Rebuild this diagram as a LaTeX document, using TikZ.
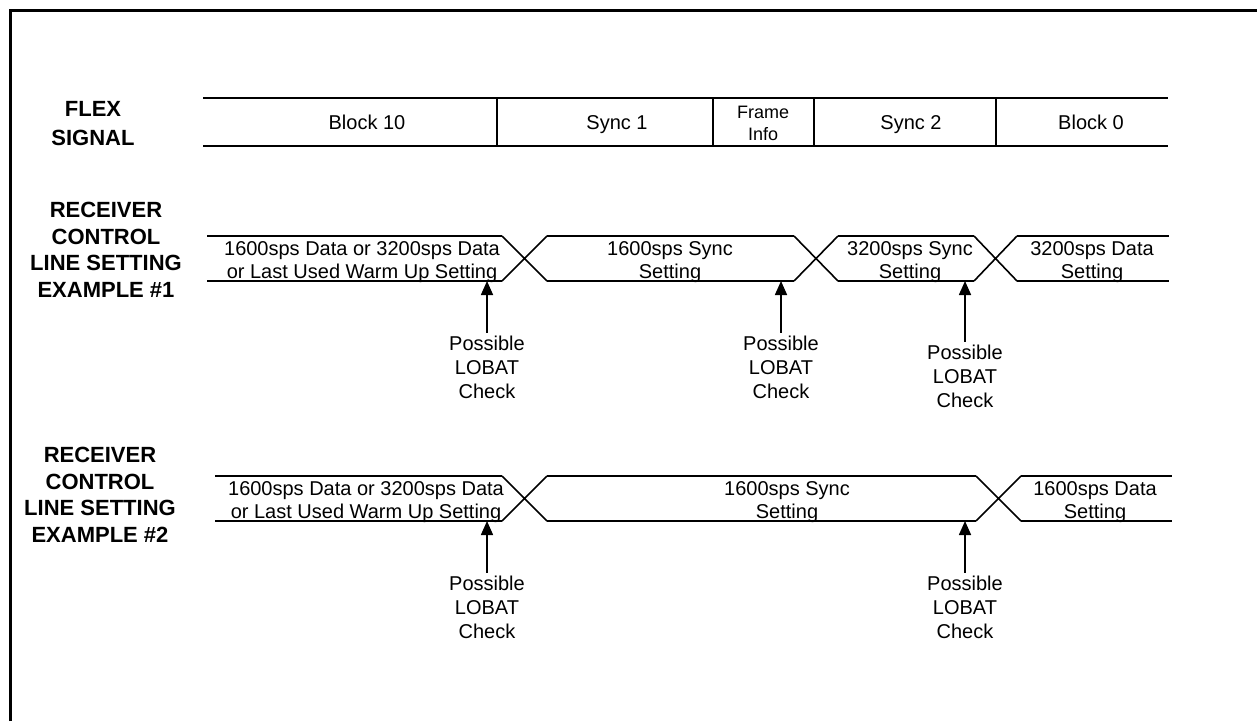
\documentclass[tikz,border=0pt]{standalone}
\usepackage{fontspec}
\setmainfont{Liberation Sans}
\usetikzlibrary{arrows.meta}

\begin{document}
\begin{tikzpicture}[x=1pt,y=-1pt,line width=1.6pt,
  tag/.style={font=\fontsize{22}{26.5}\selectfont\bfseries,align=center,inner sep=0pt,anchor=base},
  seg/.style={font=\fontsize{20}{23}\selectfont,align=center,inner sep=0pt,anchor=base},
  chk/.style={font=\fontsize{20}{24}\selectfont,align=center,inner sep=2pt,anchor=base},
  tip/.style={-{Triangle[width=12pt,length=14pt]}}]
\useasboundingbox (0,0) rectangle (1257,721);
\draw[line width=3.5pt] (10.5,721) -- (10.5,10.5) -- (1257,10.5);

\node[tag] (flex) at (93,145) {FLEX\\[2.5pt]SIGNAL};
\node[tag] (ex1) at (106,297) {RECEIVER\\CONTROL\\LINE SETTING\\EXAMPLE \#1};
\node[tag] (ex2) at (100,542) {RECEIVER\\CONTROL\\LINE SETTING\\EXAMPLE \#2};

\draw (203,98) -- (1168,98) (203,146) -- (1168,146);
\foreach \d in {497,713,814,996}
  \draw (\d,98) -- (\d,146);
\node[seg] (b10) at (367,129) {Block 10};
\node[seg] (sy1) at (617,129) {Sync 1};
\node[seg,font=\fontsize{18}{22}\selectfont] (fri) at (763,140) {Frame\\Info};
\node[seg] (sy2) at (911,129) {Sync 2};
\node[seg] (b0) at (1091,129) {Block 0};

\coordinate (w1) at (0,281);
\foreach \l/\r in {207/502,547/794,838/974,1017/1169}
  \draw (\l,236) -- (\r,236) (\l,281) -- (\r,281);
\foreach \a/\b in {502/547,794/838,974/1017}
  \draw (\a,236) -- (\b,281) (\a,281) -- (\b,236);
\node[seg] (d1a) at (362,278) {1600sps Data or 3200sps Data\\or Last Used Warm Up Setting};
\node[seg] (d1b) at (670,278) {1600sps Sync\\Setting};
\node[seg] (d1c) at (910,278) {3200sps Sync\\Setting};
\node[seg] (d1d) at (1092,278) {3200sps Data\\Setting};

\node[chk] (k11) at (487,398) {Possible\\LOBAT\\Check};
\node[chk] (k12) at (781,398) {Possible\\LOBAT\\Check};
\node[chk] (k13) at (965,407) {Possible\\LOBAT\\Check};
\foreach \k in {k11,k12,k13}
  \draw[tip] (\k.north) -- (\k.north |- w1);

\coordinate (w2) at (0,521);
\foreach \l/\r in {215/502,547/976,1021/1172}
  \draw (\l,476) -- (\r,476) (\l,521) -- (\r,521);
\foreach \a/\b in {502/547,976/1021}
  \draw (\a,476) -- (\b,521) (\a,521) -- (\b,476);
\node[seg] (d2a) at (366,518) {1600sps Data or 3200sps Data\\or Last Used Warm Up Setting};
\node[seg] (d2b) at (787,518) {1600sps Sync\\Setting};
\node[seg] (d2c) at (1095,518) {1600sps Data\\Setting};

\node[chk] (k21) at (487,638) {Possible\\LOBAT\\Check};
\node[chk] (k22) at (965,638) {Possible\\LOBAT\\Check};
\foreach \k in {k21,k22}
  \draw[tip] (\k.north) -- (\k.north |- w2);
\end{tikzpicture}
\end{document}
